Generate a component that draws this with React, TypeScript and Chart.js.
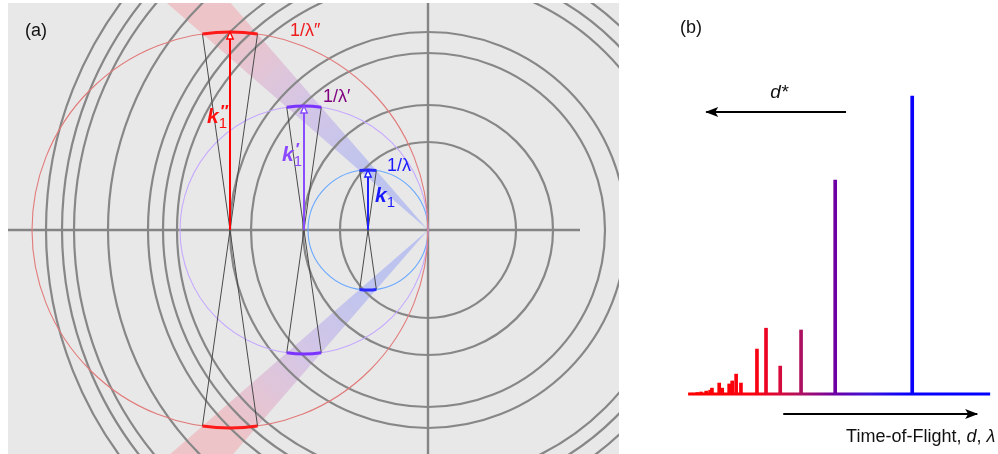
import React, { useEffect, useRef } from "react";
import { Chart, registerables } from "chart.js";
Chart.register(...registerables);

const FONT = "'Liberation Sans', Arial, sans-serif";

// ---------- Panel (a): reciprocal space ----------
const ringRadii = [0.88, 1.25, 1.77, 1.98, 2.51, 2.65, 2.8, 3.2, 3.54, 3.66, 3.82];
const ewaldRadii = [0.6, 1.24, 1.98]; // 1/λ, 1/λ′, 1/λ″
const ewaldLabels = ["1/λ", "1/λ′", "1/λ″"];
const kPrimes = ["", "′", "″"];
const ewaldLabelPos = [
  { x: -0.41, y: 0.64 },
  { x: -1.05, y: 1.33 },
  { x: -1.38, y: 1.99 },
];
const kLabelPos = [
  { x: -0.53, y: 0.34 },
  { x: -1.46, y: 0.75 },
  { x: -2.21, y: 1.13 },
];
const apertureHalfDeg = 8;
const beamDirsDeg = [135, 225];
const axisXRange = [-4.2, 1.52];
const axisYRange = [-2.4, 2.4];

const ewaldThin = ["#6aa8ff", "#c6a8ff", "#e27a7a"];
const ewaldBold = ["#2a2aff", "#7b33ff", "#ff1a1a"];
const arrowColors = ["#2020ff", "#8a4cff", "#ff0000"];
const labelColors = ["#1a1aff", "#800080", "#ee1c1c"];
const kColors = ["#1a1aff", "#8a48ff", "#ff1010"];

// ---------- Panel (b): TOF spectrum ----------
const tofPeaks = [0.13, 0.3, 0.43, 0.6, 0.73, 0.79, 1.03, 1.13, 1.36, 1.46, 1.59, 1.75, 2.28, 2.58, 3.05, 3.74, 4.87, 7.42];
const peakIntensity = [0.3, 0.5, 0.7, 1.0, 1.3, 2.0, 3.7, 2.0, 3.4, 4.4, 6.7, 3.7, 15.1, 22.1, 9.4, 21.5, 71.8, 100];
const baselineTof = [0, 10];
const dStarArrow = [
  { x: 5.23, y: 94.6 },
  { x: 0.6, y: 94.6 },
];
const tofArrow = [
  { x: 3.15, y: -6.7 },
  { x: 9.57, y: -6.7 },
];

const rad = (d: number) => (d * Math.PI) / 180;

function pxPerUnit(chart: any) {
  const s = chart.scales && chart.scales.x;
  if (!s) return 0;
  const v = Math.abs(s.getPixelForValue(1) - s.getPixelForValue(0));
  return isFinite(v) ? v : 0;
}

const panelAPlugin = {
  id: "panelA",
  beforeDraw(chart: any) {
    const { ctx, width, height } = chart;
    ctx.save();
    ctx.fillStyle = "#e8e8e8";
    ctx.fillRect(0, 0, width, height);
    ctx.restore();
  },
  beforeDatasetsDraw(chart: any) {
    const { ctx } = chart;
    const X = chart.scales.x,
      Y = chart.scales.y;
    const ox = X.getPixelForValue(0),
      oy = Y.getPixelForValue(0);
    const p = (deg: number, d: number) => [
      X.getPixelForValue(d * Math.cos(rad(deg))),
      Y.getPixelForValue(d * Math.sin(rad(deg))),
    ];
    const half = apertureHalfDeg / 2;
    const gradLen = 3.3;
    const dist = ewaldRadii.map((r) => (r * Math.SQRT2) / gradLen);
    ctx.save();
    for (const base of beamDirsDeg) {
      const [ax, ay] = p(base - half, 6);
      const [bx, by] = p(base + half, 6);
      const [gx, gy] = p(base, gradLen);
      const g = ctx.createLinearGradient(ox, oy, gx, gy);
      g.addColorStop(0, "rgba(70,95,255,0.28)");
      g.addColorStop(dist[0], "rgba(70,95,255,0.26)");
      g.addColorStop(dist[1], "rgba(150,90,225,0.24)");
      g.addColorStop(Math.min(1, dist[2]), "rgba(255,70,85,0.22)");
      g.addColorStop(1, "rgba(255,70,85,0.22)");
      ctx.fillStyle = g;
      ctx.beginPath();
      ctx.moveTo(ox, oy);
      ctx.lineTo(ax, ay);
      ctx.lineTo(bx, by);
      ctx.closePath();
      ctx.fill();
    }
    ctx.restore();
  },
  afterDatasetsDraw(chart: any) {
    const { ctx } = chart;
    const X = chart.scales.x,
      Y = chart.scales.y;
    const k = pxPerUnit(chart);
    const oy = Y.getPixelForValue(0);
    ctx.save();
    // bold aperture arcs on each Ewald circle
    ewaldRadii.forEach((r, i) => {
      const cx = X.getPixelForValue(-r);
      const R = r * k;
      ctx.strokeStyle = ewaldBold[i];
      ctx.lineWidth = 3;
      ctx.beginPath();
      ctx.arc(cx, oy, R, rad(-90 - apertureHalfDeg), rad(-90 + apertureHalfDeg));
      ctx.stroke();
      ctx.beginPath();
      ctx.arc(cx, oy, R, rad(90 - apertureHalfDeg), rad(90 + apertureHalfDeg));
      ctx.stroke();
    });
    // open arrowheads on k vectors
    chart.data.datasets.forEach((ds: any, i: number) => {
      if (!ds.arrow) return;
      const meta = chart.getDatasetMeta(i);
      const pts = meta.data;
      const a = pts[0],
        b = pts[pts.length - 1];
      const dx = b.x - a.x,
        dy = b.y - a.y;
      const L = Math.hypot(dx, dy) || 1;
      const ux = dx / L,
        uy = dy / L;
      const len = 7,
        hw = 3.2;
      const bx = b.x - ux * len,
        by = b.y - uy * len;
      ctx.beginPath();
      ctx.moveTo(b.x, b.y);
      ctx.lineTo(bx - uy * hw, by + ux * hw);
      ctx.lineTo(bx + uy * hw, by - ux * hw);
      ctx.closePath();
      ctx.fillStyle = "#ffffff";
      ctx.fill();
      ctx.strokeStyle = ds.borderColor;
      ctx.lineWidth = 1.4;
      ctx.stroke();
    });
    // labels
    ctx.textBaseline = "middle";
    ctx.textAlign = "left";
    ewaldLabels.forEach((t, i) => {
      ctx.font = `18px ${FONT}`;
      ctx.fillStyle = labelColors[i];
      ctx.fillText(t, X.getPixelForValue(ewaldLabelPos[i].x), Y.getPixelForValue(ewaldLabelPos[i].y));
    });
    kPrimes.forEach((pr, i) => {
      const x = X.getPixelForValue(kLabelPos[i].x);
      const y = Y.getPixelForValue(kLabelPos[i].y);
      ctx.fillStyle = kColors[i];
      ctx.font = `bold italic 21px ${FONT}`;
      ctx.fillText("k", x, y);
      const w = ctx.measureText("k").width;
      ctx.font = `15px ${FONT}`;
      ctx.fillText("1", x + w, y + 7);
      if (pr) {
        ctx.font = `bold italic 17px ${FONT}`;
        ctx.fillText(pr, x + w + 1, y - 5);
      }
    });
    ctx.fillStyle = "#111";
    ctx.font = `18px ${FONT}`;
    ctx.fillText("(a)", 17, 28);
    ctx.restore();
  },
};

function makeSpecGradient(chart: any) {
  const X = chart.scales && chart.scales.x;
  if (!X || !chart.ctx) return "#ff0000";
  const x0 = X.getPixelForValue(baselineTof[0]);
  const x1 = X.getPixelForValue(baselineTof[1]);
  if (!isFinite(x0) || !isFinite(x1)) return "#ff0000";
  const g = chart.ctx.createLinearGradient(x0, 0, x1, 0);
  g.addColorStop(0, "#ff0000");
  g.addColorStop(0.23, "#f80012");
  g.addColorStop(0.3, "#d80a3a");
  g.addColorStop(0.37, "#b0105e");
  g.addColorStop(0.49, "#6c00a6");
  g.addColorStop(0.6, "#3a12d8");
  g.addColorStop(0.72, "#0a00fa");
  g.addColorStop(1, "#0000ff");
  return g;
}

const panelBPlugin = {
  id: "panelB",
  afterDatasetsDraw(chart: any) {
    const { ctx } = chart;
    const X = chart.scales.x,
      Y = chart.scales.y;
    ctx.save();
    chart.data.datasets.forEach((ds: any, i: number) => {
      if (!ds.arrow) return;
      const pts = chart.getDatasetMeta(i).data;
      const a = pts[0],
        b = pts[pts.length - 1];
      const dx = b.x - a.x,
        dy = b.y - a.y;
      const L = Math.hypot(dx, dy) || 1;
      const ux = dx / L,
        uy = dy / L;
      const len = 12,
        hw = 5;
      const bx = b.x - ux * len,
        by = b.y - uy * len;
      ctx.beginPath();
      ctx.moveTo(b.x + ux, b.y + uy);
      ctx.lineTo(bx - uy * hw, by + ux * hw);
      ctx.lineTo(bx + ux * 3, by + uy * 3);
      ctx.lineTo(bx + uy * hw, by - ux * hw);
      ctx.closePath();
      ctx.fillStyle = "#000";
      ctx.fill();
    });
    ctx.fillStyle = "#111";
    ctx.textBaseline = "middle";
    ctx.textAlign = "left";
    ctx.font = `18px ${FONT}`;
    ctx.fillText("(b)", 20, 28);
    // d* label
    ctx.font = `italic 19px ${FONT}`;
    ctx.fillText("d*", X.getPixelForValue(2.72), Y.getPixelForValue(101));
    // Time-of-Flight label
    const parts: [string, boolean][] = [
      ["Time-of-Flight, ", false],
      ["d", true],
      [", ", false],
      ["λ", true],
    ];
    const fontOf = (it: boolean) => `${it ? "italic " : ""}18px ${FONT}`;
    let total = 0;
    parts.forEach(([t, it]) => {
      ctx.font = fontOf(it);
      total += ctx.measureText(t).width;
    });
    let x = X.getPixelForValue(10.17) - total;
    const y = Y.getPixelForValue(-14.4);
    parts.forEach(([t, it]) => {
      ctx.font = fontOf(it);
      ctx.fillText(t, x, y);
      x += ctx.measureText(t).width;
    });
    ctx.restore();
  },
};

function buildConfigA(): any {
  const s = Math.sin(rad(apertureHalfDeg));
  const c = Math.cos(rad(apertureHalfDeg));
  const datasets: any[] = [];
  datasets.push({
    label: "rings",
    data: ringRadii.map((r) => ({ x: 0, y: 0, r })),
    pointRadius: (ctx: any) => (ctx.raw ? pxPerUnit(ctx.chart) * ctx.raw.r : 0),
    pointBorderColor: "#878787",
    pointBorderWidth: 2.2,
    pointBackgroundColor: "rgba(0,0,0,0)",
    order: 10,
  });
  datasets.push({
    label: "axisX",
    data: axisXRange.map((x) => ({ x, y: 0 })),
    showLine: true,
    borderColor: "#858585",
    borderWidth: 2.4,
    pointRadius: 0,
    order: 9,
  });
  datasets.push({
    label: "axisY",
    data: axisYRange.map((y) => ({ x: 0, y })),
    showLine: true,
    borderColor: "#858585",
    borderWidth: 2.4,
    pointRadius: 0,
    order: 9,
  });
  datasets.push({
    label: "ewald",
    data: ewaldRadii.map((r) => ({ x: -r, y: 0, r })),
    pointRadius: (ctx: any) => (ctx.raw ? pxPerUnit(ctx.chart) * ctx.raw.r : 0),
    pointBorderColor: ewaldThin,
    pointBorderWidth: 1.1,
    pointBackgroundColor: "rgba(0,0,0,0)",
    order: 8,
  });
  ewaldRadii.forEach((r) => {
    const cx = -r;
    datasets.push({
      label: "wedge",
      data: [
        { x: cx - r * s, y: r * c },
        { x: cx + r * s, y: -r * c },
      ],
      showLine: true,
      borderColor: "#4a4a4a",
      borderWidth: 1,
      pointRadius: 0,
      order: 7,
    });
    datasets.push({
      label: "wedge",
      data: [
        { x: cx + r * s, y: r * c },
        { x: cx - r * s, y: -r * c },
      ],
      showLine: true,
      borderColor: "#4a4a4a",
      borderWidth: 1,
      pointRadius: 0,
      order: 7,
    });
  });
  ewaldRadii.forEach((r, i) => {
    datasets.push({
      label: "k",
      arrow: true,
      data: [
        { x: -r, y: 0 },
        { x: -r, y: r },
      ],
      showLine: true,
      borderColor: arrowColors[i],
      borderWidth: 2,
      pointRadius: 0,
      order: 6,
    });
  });
  return {
    type: "scatter",
    data: { datasets },
    options: {
      animation: false,
      responsive: false,
      devicePixelRatio: 1,
      events: [],
      layout: { padding: 0, autoPadding: false },
      plugins: { legend: { display: false }, tooltip: { enabled: false } },
      scales: {
        x: { type: "linear", display: false, min: -4.2, max: 1.91 },
        y: { type: "linear", display: false, min: -2.24, max: 2.27 },
      },
    },
    plugins: [panelAPlugin],
  };
}

function buildConfigB(): any {
  return {
    type: "bar",
    data: {
      datasets: [
        {
          type: "line",
          label: "baseline",
          data: baselineTof.map((x) => ({ x, y: 0 })),
          borderColor: (ctx: any) => makeSpecGradient(ctx.chart),
          borderWidth: 3,
          pointRadius: 0,
          order: 1,
        },
        {
          type: "bar",
          label: "peaks",
          data: tofPeaks.map((x, i) => ({ x, y: peakIntensity[i] })),
          backgroundColor: (ctx: any) => makeSpecGradient(ctx.chart),
          borderWidth: 0,
          barThickness: 3,
          order: 2,
        },
        {
          type: "line",
          label: "dstar",
          arrow: true,
          data: dStarArrow,
          borderColor: "#000",
          borderWidth: 2,
          pointRadius: 0,
          order: 0,
        },
        {
          type: "line",
          label: "tof",
          arrow: true,
          data: tofArrow,
          borderColor: "#000",
          borderWidth: 2,
          pointRadius: 0,
          order: 0,
        },
      ],
    },
    options: {
      animation: false,
      responsive: false,
      devicePixelRatio: 1,
      events: [],
      layout: { padding: 0, autoPadding: false },
      plugins: { legend: { display: false }, tooltip: { enabled: false } },
      scales: {
        x: { type: "linear", display: false, offset: false, min: -0.93, max: 10.26 },
        y: { type: "linear", display: false, min: -20.1, max: 132.2 },
      },
    },
    plugins: [panelBPlugin],
  };
}

export default function App() {
  const refA = useRef<HTMLCanvasElement>(null);
  const refB = useRef<HTMLCanvasElement>(null);
  useEffect(() => {
    const a = new Chart(refA.current as HTMLCanvasElement, buildConfigA());
    const b = new Chart(refB.current as HTMLCanvasElement, buildConfigB());
    return () => {
      a.destroy();
      b.destroy();
    };
  }, []);
  return (
    <div style={{ position: "absolute", left: 0, top: 0, width: 998, height: 454, background: "#fff", overflow: "hidden" }}>
      <canvas ref={refA} width={611} height={451} style={{ position: "absolute", left: 8, top: 3, width: 611, height: 451 }} />
      <canvas ref={refB} width={338} height={454} style={{ position: "absolute", left: 660, top: 0, width: 338, height: 454 }} />
    </div>
  );
}
